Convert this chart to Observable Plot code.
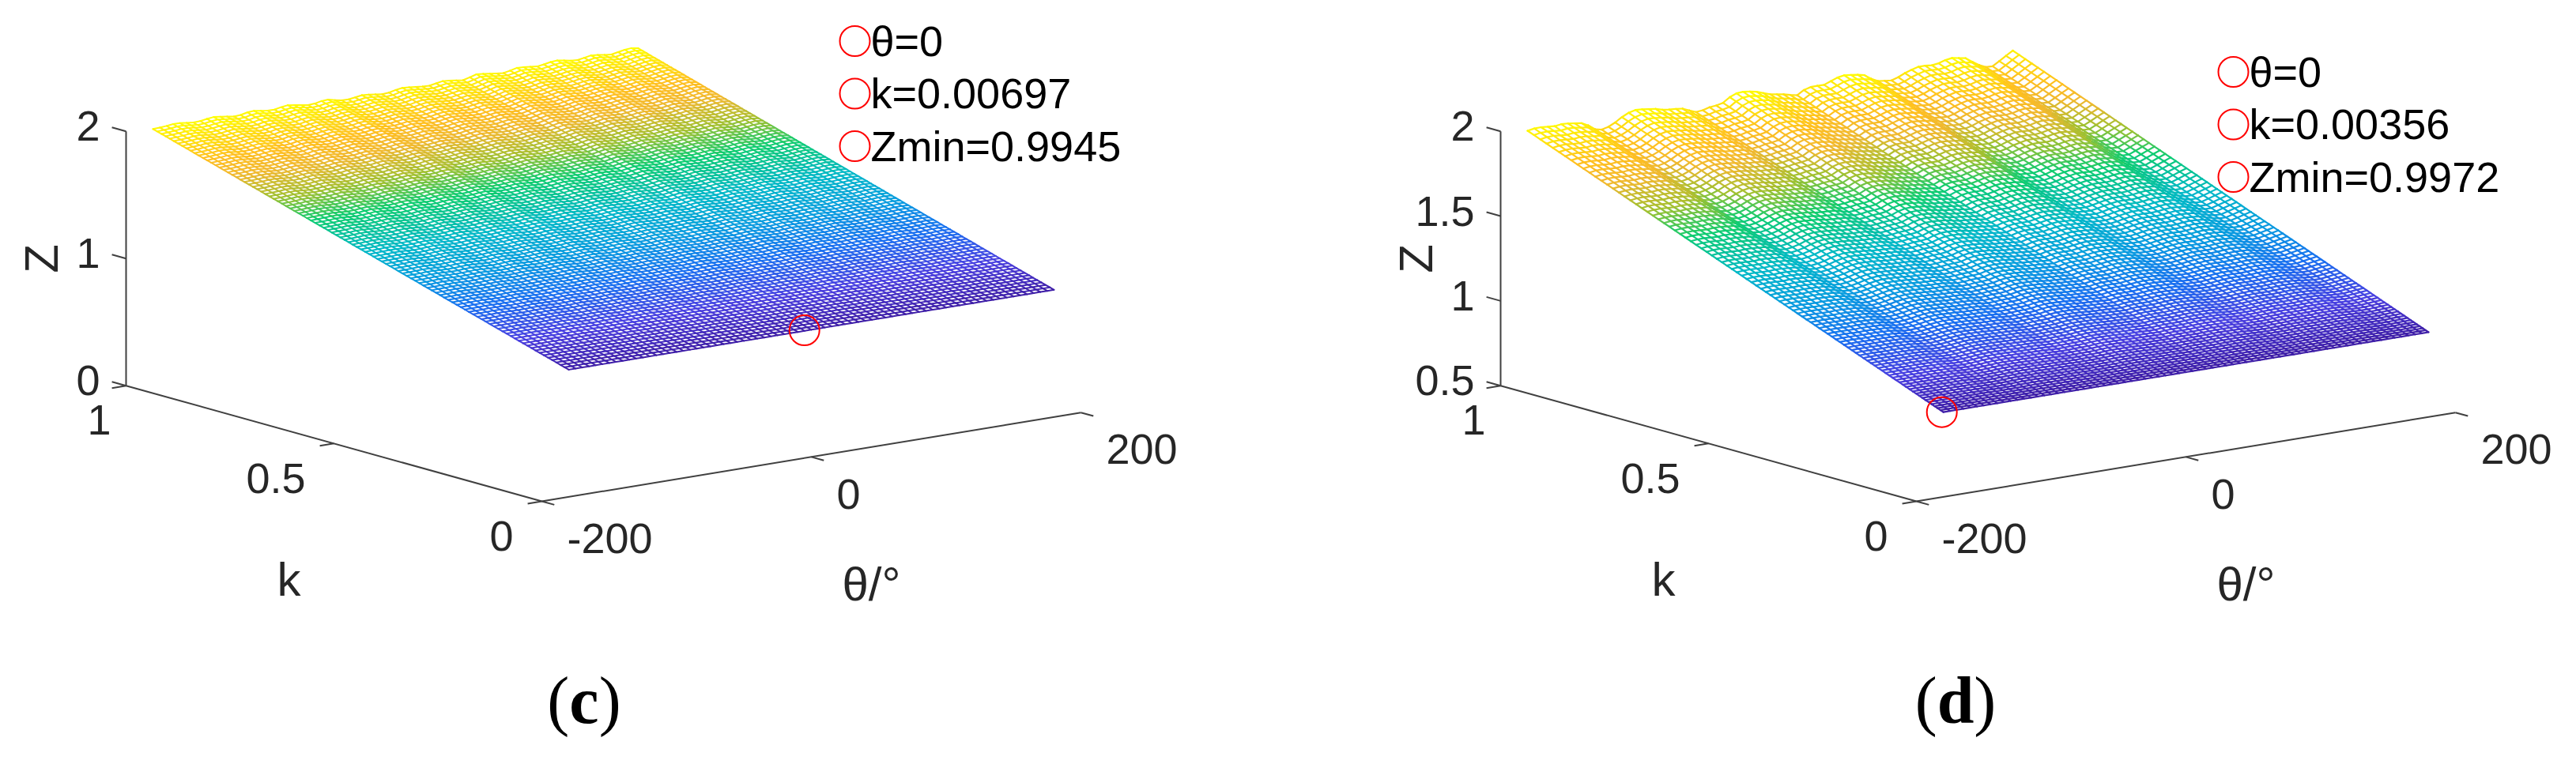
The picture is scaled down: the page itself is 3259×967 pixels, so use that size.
<!DOCTYPE html>
<html>
<head>
<meta charset="utf-8">
<script src="https://cdn.jsdelivr.net/npm/d3@7"></script>
<script src="https://cdn.jsdelivr.net/npm/@observablehq/plot@0.6"></script>
<style>
html,body{margin:0;padding:0;background:#fff;width:3259px;height:967px;overflow:hidden;position:relative}
.cap{position:absolute;top:840px;width:240px;text-align:center;font:84px/94px "Liberation Serif",serif;color:#000}
svg{display:block}
</style>
</head>
<body>
<div id="chart"></div>
<div class="cap" style="left:619px">(<b>c</b>)</div>
<div class="cap" style="left:2354px">(<b>d</b>)</div>
<script>
// Surface grid in theta (degrees)
const thetaGrid = [-180,-175,-170,-165,-160,-155,-150,-145,-140,-135,-130,-125,-120,-115,-110,-105,-100,-95,-90,-85,-80,-75,-70,-65,-60,-55,-50,-45,-40,-35,-30,-25,-20,-15,-10,-5,0,5,10,15,20,25,30,35,40,45,50,55,60,65,70,75,80,85,90,95,100,105,110,115,120,125,130,135,140,145,150,155,160,165,170,175,180];
// Z along the far edge (k = 1)
const topEdgeC = [1.983,1.986,1.990,1.996,1.995,1.988,1.982,1.985,1.993,1.999,1.992,1.985,1.977,1.980,1.992,1.995,1.987,1.979,1.979,1.989,1.996,1.988,1.979,1.971,1.974,1.985,1.988,1.975,1.965,1.963,1.970,1.979,1.974,1.968,1.960,1.964,1.976,1.984,1.980,1.974,1.968,1.966,1.976,1.985,1.980,1.973,1.966,1.980,1.995,1.990,1.982,1.975,1.970,1.980,1.993,1.990,1.984,1.978,1.985,1.995,1.999,1.990,1.980,1.976,1.985,1.995,1.990,1.982,1.976,1.986,1.996,2.000,1.990];
const topEdgeD = [1.977,1.984,1.985,1.981,1.978,1.983,1.981,1.975,1.970,1.950,1.921,1.912,1.922,1.941,1.966,1.985,1.995,1.992,1.987,1.982,1.970,1.965,1.962,1.957,1.940,1.924,1.928,1.939,1.943,1.952,1.979,1.995,1.998,1.992,1.985,1.970,1.957,1.950,1.943,1.933,1.925,1.949,1.960,1.961,1.960,1.975,1.990,1.997,1.992,1.987,1.978,1.950,1.930,1.925,1.921,1.933,1.951,1.964,1.975,1.975,1.971,1.976,1.988,1.994,1.987,1.980,1.952,1.927,1.908,1.906,1.930,1.955,1.979];
const thetaTicks = [-200,0,200];
const kTicks = [1,0.5,0];
const zTicksC = [0,1,2];
const zTicksD = [0.5,1,1.5,2];
const legendC = ["θ=0","k=0.00697","Zmin=0.9945"];
const legendD = ["θ=0","k=0.00356","Zmin=0.9972"];
const markerC = {theta:-3,k:0.00697,z:0.9945};
const markerD = {theta:-180,k:0.00356,z:0.9972};
const colorStops = [1,1.12,1.25,1.36,1.48,1.61,1.7,1.79,1.86,2];
const colorRange = ["#3f1fa8","#4a3fe0","#1a70f0","#0a9ae0","#00b8c8","#10cc70","#a0c030","#f0b830","#ffc020","#ffff00"];

const W = 3259, H = 840;
const ink = "#404040", textInk = "#262626", FS = 54, LFS = 60;

function panel(o){
  const zPx = 322/(o.zMax-o.zMin);
  const px = (t,k)=> o.ox + (t+200)*1.705 - k*526;
  const py = (t,k,z)=> 634 - (t+200)*0.2808 - k*146.3 - (z-o.zMin)*zPx;
  const Zs = (i,k)=> 1 + k*(o.top[i]-1);
  const level = z => Math.round(z*64)/64;
  const rows = [];
  thetaGrid.forEach((t,i)=>{ o.kGrid.forEach(k=>{
    const z = Zs(i,k);
    rows.push({id:"c"+i,x:px(t,k),y:py(t,k,z),z:level(z)});
  });});
  o.kGrid.forEach((k,j)=>{ thetaGrid.forEach((t,i)=>{
    const z = Zs(i,k);
    rows.push({id:"r"+j,x:px(t,k),y:py(t,k,z),z:level(z)});
  });});
  const zMin=o.zMin, zMax=o.zMax;
  const links = [
    {a:[-200,1,zMin],b:[-200,1,zMax]},
    {a:[-200,1,zMin],b:[-200,0,zMin]},
    {a:[-200,0,zMin],b:[200,0,zMin]},
    ...o.zTicks.map(z=>({a:[-200,1,z],b:[-200,1.034,z]})),
    ...kTicks.map(k=>({a:[-200,k,zMin],b:[-210.5,k,zMin]})),
    ...thetaTicks.map(t=>({a:[t,0,zMin],b:[t,-0.03,zMin]}))
  ];
  const P = p=>[px(p[0],p[1]),py(p[0],p[1],p[2])];
  const txt = {fontFamily:"Liberation Sans",lineAnchor:"middle",fill:textInk,fontSize:FS};
  return [
    Plot.line(rows,{x:"x",y:"y",z:"id",stroke:"z",strokeWidth:o.sw,curve:"linear",strokeLinejoin:"round"}),
    Plot.link(links,{x1:d=>P(d.a)[0],y1:d=>P(d.a)[1],x2:d=>P(d.b)[0],y2:d=>P(d.b)[1],stroke:ink,strokeWidth:2}),
    Plot.text(o.zTicks,{x:()=>px(-200,1)-33,y:z=>py(-200,1,z)-5,text:d=>String(d),textAnchor:"end",...txt}),
    Plot.text(kTicks,{x:k=>px(-200,k)+(k===1?-19:-36),y:k=>py(-200,k,zMin)+45,text:d=>String(d),textAnchor:"end",...txt}),
    Plot.text(thetaTicks,{x:t=>px(t,0)+32,y:t=>py(t,0,zMin)+48,text:d=>String(d),textAnchor:"start",...txt}),
    Plot.text(["Z"],{x:()=>o.ox-632,y:()=>327,rotate:-90,text:d=>d,...txt,fontSize:LFS}),
    Plot.text(["k"],{x:()=>o.ox-320,y:()=>734,text:d=>d,...txt,fontSize:LFS}),
    Plot.text(["θ/°"],{x:()=>o.ox+417,y:()=>740,text:d=>d,...txt,fontSize:LFS}),
    Plot.dot([o.marker],{x:d=>px(d.theta,d.k),y:d=>py(d.theta,d.k,d.z),r:19,stroke:"#ff0000",strokeWidth:2,fill:"none"}),
    Plot.dot(o.legend,{x:()=>o.lx,y:(d,i)=>o.ly+i*o.lgap-1.5,r:19,stroke:"#ff0000",strokeWidth:2,fill:"none"}),
    Plot.text(o.legend,{x:()=>o.lx+20,y:(d,i)=>o.ly+i*o.lgap,text:d=>d,textAnchor:"start",fontFamily:"Liberation Sans",lineAnchor:"middle",fill:"#000",fontSize:FS})
  ];
}
const N1 = 100, N2 = 90;
const kGridC = d3.range(N1+1).map(i=>i/N1);
const kGridD = d3.range(N2+1).map(i=>{const t=i/N2;return t*(0.62+0.38*t);});

const chart = Plot.plot({
  width:W,height:H,margin:0,
  x:{domain:[0,W],range:[0,W],axis:null},
  y:{domain:[0,H],range:[0,H],axis:null},
  color:{type:"linear",domain:colorStops,range:colorRange,clamp:true},
  style:{background:"#fff"},
  marks:[
    ...panel({ox:685,zMin:0,zMax:2,top:topEdgeC,kGrid:kGridC,zTicks:zTicksC,marker:markerC,legend:legendC,lx:1081,ly:53,lgap:66.5,sw:2}),
    ...panel({ox:2424,zMin:0.5,zMax:2,top:topEdgeD,kGrid:kGridD,zTicks:zTicksD,marker:markerD,legend:legendD,lx:2825,ly:92,lgap:66.5,sw:2.2})
  ]
});
document.getElementById("chart").appendChild(chart);
</script>
</body>
</html>
